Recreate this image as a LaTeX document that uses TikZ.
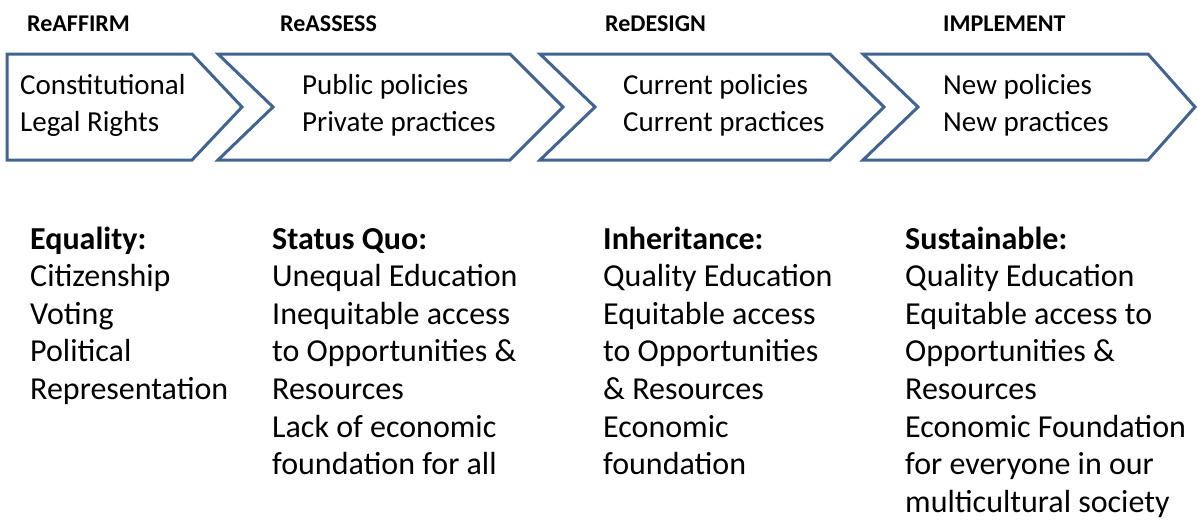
\documentclass[tikz,border=0pt]{standalone}
\usepackage{fontspec}
\setmainfont{Carlito}
\definecolor{chevblue}{RGB}{66,100,145}
\begin{document}
\begin{tikzpicture}[x=1pt,y=-1pt,line join=miter,
    chev/.style={draw=chevblue,line width=3pt},
    stagehead/.style={anchor=base west,inner sep=0pt,font=\fontsize{24}{29}\selectfont\bfseries},
    chevtext/.style={anchor=base west,inner sep=0pt,align=left,font=\fontsize{29}{36.5}\selectfont},
    coltext/.style={anchor=base west,inner sep=0pt,align=left,font=\fontsize{32}{37.6}\selectfont}]
    \useasboundingbox (0,0) rectangle (1198,525);
    \def\ytop{54} % top edge of the chevrons
    \def\ybot{160}
    \def\ymid{107}
    % chevrons
    \draw[chev] (7,\ytop) -- (192,\ytop) -- (242,\ymid) -- (192,\ybot) -- (7,\ybot) -- cycle;
    \foreach \l/\r/\p in {218/510/563, 540/830/884, 863/1148/1195}
        \draw[chev] (\l,\ytop) -- (\r,\ytop) -- (\p,\ymid) -- (\r,\ybot) -- (\l,\ybot) -- ({\l+55},\ymid) -- cycle;
    % stage names
    \node[stagehead] (affirm) at (27,31) {ReAFFIRM};
    \node[stagehead] (assess) at (280,31) {ReASSESS};
    \node[stagehead] (design) at (605,31) {ReDESIGN};
    \node[stagehead] (implement) at (943,31) {IMPLEMENT};
    % inside the chevrons (base = last line)
    \node[chevtext] (rights) at (20,131) {Constitutional\\Legal Rights};
    \node[chevtext] (private) at (302,131) {Public policies\\Private practices};
    \node[chevtext] (current) at (623,131) {Current policies\\Current practices};
    \node[chevtext] (new) at (943,131) {New policies\\New practices};
    % columns below
    \node[coltext] (equality) at (30,399.4) {\textbf{Equality:}\\Citizenship\\Voting\\Political\\Representation};
    \node[coltext] (statusquo) at (272,474.6) {\textbf{Status Quo:}\\Unequal Education\\Inequitable access\\to Opportunities \&\\Resources\\Lack of economic\\foundation for all};
    \node[coltext] (inheritance) at (603,474.6) {\textbf{Inheritance:}\\Quality Education\\Equitable access\\to Opportunities\\\& Resources\\Economic\\foundation};
    \node[coltext] (sustainable) at (905,512.2) {\textbf{Sustainable:}\\Quality Education\\Equitable access to\\Opportunities \&\\Resources\\Economic Foundation\\for everyone in our\\multicultural society};
\end{tikzpicture}
\end{document}
